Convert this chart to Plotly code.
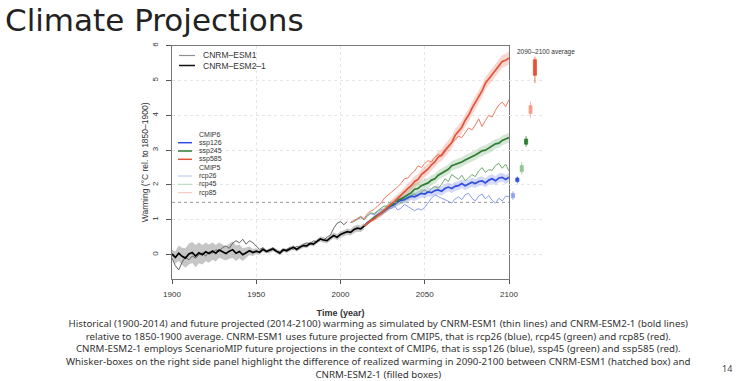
import plotly.graph_objects as go

# ---------------- data ----------------
hist_years = list(range(1900, 2015, 2))
esm2_hist = [0.02, -0.08, 0.04, -0.05, -0.10, 0.02, 0.06, -0.04, 0.05, 0.00,
             0.08, 0.03, 0.10, 0.04, 0.13, 0.08, 0.03, 0.10, 0.14, 0.04,
             0.09, 0.00, 0.05, 0.11, 0.06, 0.10, 0.07, 0.15, 0.09, 0.12,
             0.16, 0.10, 0.05, 0.14, 0.11, 0.16, 0.21, 0.15, 0.22, 0.26,
             0.25, 0.32, 0.30, 0.38, 0.45, 0.42, 0.40, 0.48, 0.55, 0.50,
             0.58, 0.62, 0.66, 0.64, 0.72, 0.76, 0.74, 0.82]
esm2_spread = [0.12, 0.18, 0.22, 0.25, 0.28, 0.30, 0.30, 0.32, 0.30, 0.28,
               0.27, 0.26, 0.25, 0.24, 0.22, 0.22, 0.20, 0.22, 0.24, 0.22,
               0.20, 0.18, 0.15, 0.12, 0.10, 0.08, 0.07, 0.07, 0.06, 0.07,
               0.06, 0.06, 0.07, 0.06, 0.06, 0.07, 0.06, 0.06, 0.07, 0.06,
               0.07, 0.06, 0.07, 0.06, 0.07, 0.08, 0.07, 0.08, 0.08, 0.09,
               0.09, 0.08, 0.09, 0.09, 0.10, 0.10, 0.09, 0.10]

esm1_years = list(range(1900, 2005, 2))
esm1_hist = [-0.10, -0.32, -0.44, -0.22, -0.06, -0.15, -0.04, -0.10, 0.00, 0.05,
             -0.04, 0.08, 0.04, 0.14, 0.10, 0.20, 0.25, 0.18, 0.33, 0.40,
             0.34, 0.44, 0.30, 0.40, 0.34, 0.24, 0.15, 0.20, 0.10, 0.15,
             0.20, 0.10, 0.02, 0.10, 0.15, 0.20, 0.15, 0.24, 0.20, 0.30,
             0.34, 0.30, 0.40, 0.35, 0.45, 0.42, 0.50, 0.56, 0.76, 0.90,
             0.95, 0.86, 0.95]

ssp_years = list(range(2014, 2101, 2))
ssp126 = [0.82, 0.92, 0.98, 1.06, 1.14, 1.18, 1.26, 1.34, 1.40,
          1.44, 1.52, 1.56, 1.58, 1.64, 1.68, 1.66, 1.72, 1.76, 1.74,
          1.80, 1.78, 1.84, 1.86, 1.82, 1.90, 1.94, 1.90, 1.96, 1.98,
          2.04, 1.98, 2.02, 2.08, 2.04, 2.10, 2.12, 2.06, 2.14, 2.18,
          2.12, 2.20, 2.22, 2.16, 2.22]
ssp245 = [0.82, 0.90, 1.00, 1.06, 1.12, 1.20, 1.28, 1.34, 1.42,
          1.48, 1.56, 1.60, 1.66, 1.74, 1.78, 1.88, 1.90, 1.98, 2.02,
          2.06, 2.14, 2.18, 2.28, 2.34, 2.40, 2.45, 2.55, 2.58, 2.62,
          2.66, 2.72, 2.76, 2.82, 2.86, 2.92, 2.98, 3.00, 3.06, 3.10,
          3.18, 3.20, 3.28, 3.32, 3.36]
ssp585 = [0.82, 0.90, 0.98, 1.02, 1.12, 1.18, 1.28, 1.36, 1.45,
          1.52, 1.62, 1.70, 1.80, 1.90, 1.98, 2.10, 2.16, 2.30, 2.38,
          2.46, 2.58, 2.66, 2.80, 2.86, 3.00, 3.10, 3.22, 3.42, 3.55,
          3.66, 3.86, 4.00, 4.20, 4.36, 4.52, 4.70, 4.92, 5.05, 5.15,
          5.30, 5.42, 5.55, 5.58, 5.65]
ssp126_spread = [0.04, 0.05, 0.06, 0.06, 0.07, 0.08, 0.08, 0.09, 0.09,
                 0.10, 0.10, 0.10, 0.11, 0.11, 0.11, 0.12, 0.12, 0.12, 0.12,
                 0.12, 0.12, 0.13, 0.13, 0.13, 0.13, 0.13, 0.13, 0.13, 0.13,
                 0.13, 0.13, 0.13, 0.13, 0.13, 0.13, 0.13, 0.13, 0.13, 0.13,
                 0.13, 0.13, 0.13, 0.13, 0.13]
ssp245_spread = [0.04, 0.05, 0.06, 0.07, 0.08, 0.09, 0.10, 0.11, 0.12,
                 0.13, 0.14, 0.15, 0.16, 0.17, 0.18, 0.18, 0.18, 0.17, 0.16,
                 0.15, 0.14, 0.14, 0.14, 0.14, 0.14, 0.14, 0.14, 0.14, 0.14,
                 0.14, 0.14, 0.14, 0.14, 0.14, 0.14, 0.14, 0.14, 0.14, 0.14,
                 0.14, 0.14, 0.14, 0.14, 0.14]
ssp585_spread = [0.04, 0.05, 0.06, 0.07, 0.08, 0.09, 0.10, 0.10, 0.11,
                 0.12, 0.12, 0.13, 0.13, 0.14, 0.14, 0.15, 0.15, 0.15, 0.16,
                 0.16, 0.16, 0.16, 0.17, 0.17, 0.17, 0.17, 0.18, 0.18, 0.18,
                 0.18, 0.18, 0.18, 0.18, 0.18, 0.18, 0.18, 0.18, 0.18, 0.18,
                 0.18, 0.18, 0.18, 0.18, 0.18]

rcp_years = list(range(2006, 2101, 2))
rcp26 = [0.92, 0.96, 1.00, 1.06, 1.00, 1.12, 1.18, 1.14, 1.24, 1.30,
         1.26, 1.36, 1.32, 1.40, 1.28, 1.34, 1.44, 1.38, 1.30, 1.26,
         1.32, 1.28, 1.36, 1.50, 1.62, 1.72, 1.66, 1.62, 1.58, 1.52,
         1.48, 1.60, 1.66, 1.58, 1.72, 1.76, 1.62, 1.54, 1.68, 1.74,
         1.60, 1.70, 1.56, 1.48, 1.62, 1.54, 1.68, 1.66]
rcp45 = [0.92, 0.95, 1.02, 1.08, 1.00, 1.12, 1.20, 1.18, 1.26, 1.34,
         1.40, 1.38, 1.46, 1.52, 1.48, 1.58, 1.62, 1.60, 1.70, 1.74,
         1.68, 1.80, 1.86, 1.78, 1.90, 1.96, 1.90, 2.02, 2.18, 2.10,
         2.30, 2.22, 2.16, 2.28, 2.12, 2.20, 2.30, 2.24, 2.40, 2.50,
         2.36, 2.44, 2.42, 2.56, 2.62, 2.48, 2.60, 2.40]
rcp85 = [0.92, 0.98, 1.05, 1.10, 1.02, 1.18, 1.25, 1.30, 1.40, 1.48,
         1.62, 1.70, 1.78, 1.85, 1.95, 2.05, 2.18, 2.20, 2.32, 2.40,
         2.55, 2.50, 2.62, 2.70, 2.66, 2.80, 2.88, 2.82, 2.95, 3.05,
         3.20, 3.30, 3.40, 3.36, 3.50, 3.64, 3.58, 3.72, 3.90, 3.68,
         3.85, 4.00, 3.95, 4.15, 4.30, 4.38, 4.25, 4.45]

# 2090-2100 average whisker boxes (side panel)
box_names = ["rcp26", "ssp126", "rcp45", "ssp245", "rcp85", "ssp585"]
box_low = [1.57, 2.05, 2.30, 3.10, 3.92, 4.93]
box_q1 = [1.63, 2.10, 2.38, 3.17, 4.05, 5.15]
box_med = [1.70, 2.15, 2.47, 3.25, 4.15, 5.38]
box_q3 = [1.76, 2.20, 2.56, 3.32, 4.28, 5.60]
box_high = [1.82, 2.24, 2.66, 3.40, 4.39, 5.68]

REF_LEVEL = 1.5
x_ticks = [1900, 1950, 2000, 2050, 2100]
y_ticks = [0, 1, 2, 3, 4, 5, 6]

# ---------------- style ----------------
W, H = 750, 381
def px(x): return x / W
def py(y): return 1 - y / H

BLUE, GREEN, RED = "#2f4fe0", "#2e7d32", "#e0553a"
BLUE_L, GREEN_L, RED_L = "#8c9cf0", "#8cbf8c", "#f29a85"
BAND = {"blue": "rgba(100,120,235,0.28)", "green": "rgba(110,170,110,0.28)",
        "red": "rgba(235,120,100,0.30)"}
AX_FONT = "Liberation Sans, Arial, sans-serif"
TXT_FONT = "Noto Sans, sans-serif"

fig = go.Figure()

def band(xs, mid, spread, color):
    lo = [m - s for m, s in zip(mid, spread)]
    hi = [m + s for m, s in zip(mid, spread)]
    fig.add_trace(go.Scatter(x=xs + xs[::-1], y=hi + lo[::-1], fill="toself",
                             fillcolor=color, line=dict(width=0),
                             hoverinfo="skip", showlegend=False))

band(hist_years, esm2_hist, esm2_spread, "rgba(160,160,160,0.6)")
band(ssp_years, ssp126, ssp126_spread, BAND["blue"])
band(ssp_years, ssp245, ssp245_spread, BAND["green"])
band(ssp_years, ssp585, ssp585_spread, BAND["red"])

def line(xs, ys, color, width, name):
    fig.add_trace(go.Scatter(x=xs, y=ys, mode="lines", name=name,
                             line=dict(color=color, width=width),
                             showlegend=False))

line(esm1_years, esm1_hist, "#555555", 0.9, "CNRM-ESM1")
line(rcp_years, rcp26, BLUE_L, 1.0, "rcp26")
line(rcp_years, rcp45, "#6fa86f", 1.0, "rcp45")
line(rcp_years, rcp85, "#ee7a62", 1.0, "rcp85")
line(ssp_years, ssp126, BLUE, 1.7, "ssp126")
line(ssp_years, ssp245, GREEN, 1.7, "ssp245")
line(ssp_years, ssp585, RED, 1.7, "ssp585")
line(hist_years, esm2_hist, "#000000", 1.7, "CNRM-ESM2-1")

# side panel boxes
box_fill = [BLUE_L, BLUE, GREEN_L, GREEN, RED_L, RED]
box_line = ["#9aa8f0", BLUE, "#9cc89c", GREEN, "#f3a896", RED]
for i, nm in enumerate(box_names):
    fig.add_trace(go.Box(x=[nm], q1=[box_q1[i]], median=[box_med[i]], q3=[box_q3[i]],
                         lowerfence=[box_low[i]], upperfence=[box_high[i]],
                         xaxis="x2", yaxis="y", width=0.7, whiskerwidth=0,
                         fillcolor=box_fill[i], line=dict(color=box_line[i], width=0.8),
                         boxpoints=False, showlegend=False, hoverinfo="skip"))

fig.add_shape(type="line", xref="x", yref="y", x0=x_ticks[0], x1=x_ticks[-1],
              y0=REF_LEVEL, y1=REF_LEVEL, line=dict(color="#999999", width=1, dash="dot"))

# legends (drawn as text + swatches)
def legend_item(y, color, width, label, x_line=(179, 195), x_text=201, size=8.5):
    fig.add_shape(type="line", xref="paper", yref="paper", x0=px(x_line[0]), x1=px(x_line[1]),
                  y0=py(y), y1=py(y), line=dict(color=color, width=width))
    fig.add_annotation(x=px(x_text), y=py(y), xref="paper", yref="paper", text=label,
                       showarrow=False, xanchor="left", yanchor="middle",
                       font=dict(family=AX_FONT, size=size, color="#333"))

legend_item(55.5, "#909090", 1.2, "CNRM\u2013ESM1")
legend_item(65.5, "#111111", 1.5, "CNRM\u2013ESM2\u20131")

def legend_head(y, label):
    fig.add_annotation(x=px(197), y=py(y), xref="paper", yref="paper", text=label,
                       showarrow=False, xanchor="left", yanchor="middle",
                       font=dict(family=AX_FONT, size=7, color="#333"))

legend_head(134, "CMIP6")
legend_item(142.7, BLUE, 1.5, "ssp126", (178, 192), 197, 7)
legend_item(151, GREEN, 1.5, "ssp245", (178, 192), 197, 7)
legend_item(159.3, RED, 1.5, "ssp585", (178, 192), 197, 7)
legend_head(167.7, "CMIP5")
legend_item(176, "#b8c2f5", 1, "rcp26", (178, 192), 197, 7)
legend_item(184.3, "#b5d6b5", 1, "rcp45", (178, 192), 197, 7)
legend_item(192.7, "#f5c0b2", 1, "rcp85", (178, 192), 197, 7)

fig.add_annotation(x=px(515), y=py(52), xref="paper", yref="paper",
                   text="2090\u20132100 average", showarrow=False,
                   xanchor="left", yanchor="middle",
                   font=dict(family=AX_FONT, size=6.5, color="#333"))

# title, caption, page number
fig.add_annotation(x=px(3), y=py(20), xref="paper", yref="paper", text="Climate Projections",
                   showarrow=False, xanchor="left", yanchor="middle",
                   font=dict(family="DejaVu Sans, sans-serif", size=31, color="#222"))
caption = [
    "Historical (1900-2014) and future projected (2014-2100) warming as simulated by CNRM-ESM1 (thin lines) and CNRM-ESM2-1 (bold lines)",
    "relative to 1850-1900 average. CNRM-ESM1 uses future projected from CMIP5, that is rcp26 (blue), rcp45 (green) and rcp85 (red).",
    "CNRM-ESM2-1 employs ScenarioMIP future projections in the context of CMIP6, that is ssp126 (blue), ssp45 (green) and ssp585 (red).",
    "Whisker-boxes on the right side panel highlight the difference of realized warming in 2090-2100 between CNRM-ESM1 (hatched box) and",
    "CNRM-ESM2-1 (filled boxes)",
]
fig.add_annotation(x=px(378), y=py(349), xref="paper", yref="paper", text="<br>".join(caption),
                   showarrow=False, xanchor="center", yanchor="middle", align="center",
                   font=dict(family=TXT_FONT, size=9.75, color="#333"))
fig.add_annotation(x=px(727), y=py(368), xref="paper", yref="paper", text="14",
                   showarrow=False, xanchor="center", yanchor="middle",
                   font=dict(family=TXT_FONT, size=9, color="#444"))

fig.update_layout(
    width=W, height=H, margin=dict(l=0, r=0, t=0, b=0, autoexpand=False),
    paper_bgcolor="white", plot_bgcolor="white", showlegend=False,
    xaxis=dict(domain=[px(172), px(509)], range=[1900, 2100], tickvals=x_ticks,
               ticks="outside", ticklen=4, tickcolor="#555", showline=True, mirror=True,
               linecolor="#777", linewidth=1, showgrid=True, gridcolor="#e6e6e6",
               griddash="dot", zeroline=False, ticklabelstandoff=3,
               tickfont=dict(family=AX_FONT, size=8, color="#333"),
               title=dict(text="<b>Time (year)</b>", standoff=12,
                          font=dict(family=AX_FONT, size=9, color="#333"))),
    yaxis=dict(domain=[py(279), py(45.7)], range=[-0.7, 6.0], tickvals=y_ticks,
               ticks="outside", ticklen=5, tickcolor="#555", showline=True, mirror=True,
               linecolor="#777", linewidth=1, showgrid=True, gridcolor="#e6e6e6",
               griddash="dot", zeroline=False, tickangle=-90, ticklabelstandoff=5,
               tickfont=dict(family=AX_FONT, size=8, color="#333"),
               title=dict(text="Warming (\u00b0C rel. to 1850\u20131900)", standoff=0,
                          font=dict(family=AX_FONT, size=8.5, color="#333"))),
    xaxis2=dict(domain=[px(509), px(545)], anchor="y", type="category",
                categoryorder="array", categoryarray=box_names, range=[-0.9, 7.3],
                showline=False, showgrid=False, showticklabels=False, ticks="",
                zeroline=False),
)

fig.write_html("out.html", config={"displayModeBar": False},
               post_script="document.body.style.margin='0px';document.body.style.overflow='hidden';")
